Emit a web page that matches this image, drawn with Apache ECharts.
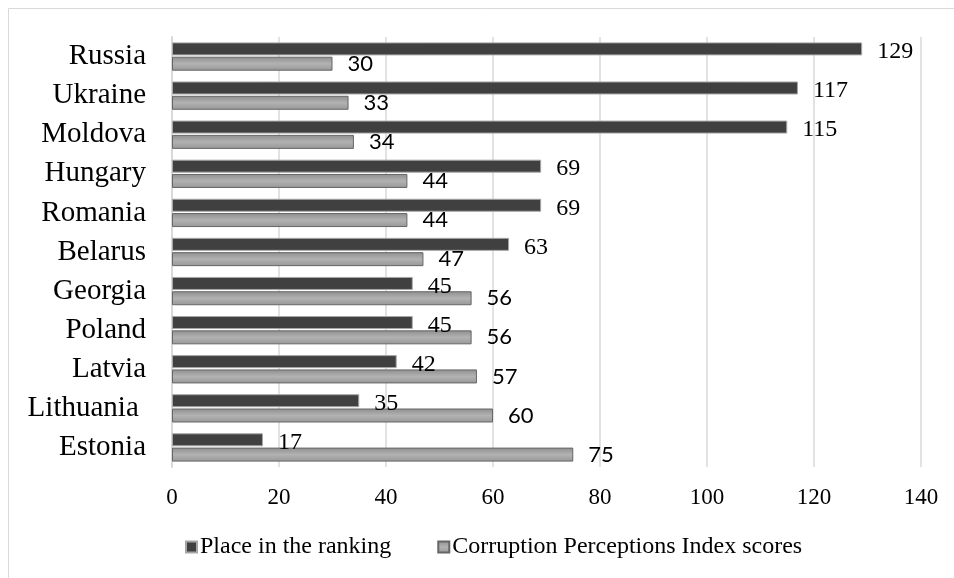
<!DOCTYPE html>
<html>
<head>
    <meta charset="utf-8">
    <title>Corruption ranking</title>
    <script src="https://cdn.jsdelivr.net/npm/echarts@6/dist/echarts.min.js"></script>
    <style>
        html, body { margin: 0; padding: 0; background: #fff; }
        #chart { width: 954px; height: 578px; }
    </style>
</head>
<body>
<div id="chart"></div>
<script>
    // 'Lithuania ' keeps the trailing space the original label has
    var countries = ['Russia', 'Ukraine', 'Moldova', 'Hungary', 'Romania', 'Belarus',
        'Georgia', 'Poland', 'Latvia', 'Lithuania ', 'Estonia'];
    var placeInRanking = [129, 117, 115, 69, 69, 63, 45, 45, 42, 35, 17];
    var cpiScores = [30, 33, 34, 44, 44, 47, 56, 56, 57, 60, 75];
    var xTicks = [0, 140, 20]; // min, max, step

    var serif = '"Liberation Serif", "Times New Roman", serif';
    var sans = 'Lato, "Liberation Sans", sans-serif';

    var myChart = echarts.init(document.getElementById('chart'));
    myChart.setOption({
        animation: false,
        backgroundColor: '#fff',
        graphic: [{
            type: 'rect',
            shape: { x: 8.5, y: 8.5, width: 1200, height: 1200 },
            style: { fill: 'none', stroke: '#d9d9d9', lineWidth: 1 },
            silent: true
        }],
        grid: { left: 172, right: 33, top: 37, bottom: 111, containLabel: false },
        legend: {
            left: 180,
            bottom: 14,
            itemWidth: 11,
            itemHeight: 11,
            itemGap: 46,
            icon: 'rect',
            textStyle: { fontFamily: serif, fontSize: 24, color: '#000', padding: [0, 0, 0, -2] },
            data: ['Place in the ranking', 'Corruption Perceptions Index scores']
        },
        xAxis: {
            type: 'value',
            min: xTicks[0],
            max: xTicks[1],
            interval: xTicks[2],
            axisLine: { show: false },
            axisTick: { show: false },
            splitLine: { lineStyle: { color: '#d9d9d9', width: 1.5 } },
            axisLabel: { fontFamily: serif, fontSize: 23, color: '#000', margin: 19 }
        },
        yAxis: {
            type: 'category',
            inverse: true,
            data: countries,
            axisLine: { lineStyle: { color: '#d9d9d9', width: 2 } },
            axisTick: { show: false },
            axisLabel: { fontFamily: serif, fontSize: 29, color: '#000', margin: 26 }
        },
        series: [
            {
                name: 'Place in the ranking',
                type: 'bar',
                data: placeInRanking,
                barWidth: 13,
                barGap: '10%',
                itemStyle: { color: '#404040', borderColor: '#a6a6a6', borderWidth: 1 },
                label: {
                    show: true,
                    position: 'right',
                    distance: 15,
                    offset: [0, 3],
                    fontFamily: serif,
                    fontSize: 24,
                    color: '#000'
                }
            },
            {
                name: 'Corruption Perceptions Index scores',
                type: 'bar',
                data: cpiScores,
                barWidth: 14,
                itemStyle: {
                    color: new echarts.graphic.LinearGradient(0, 0, 0, 1, [
                        { offset: 0, color: '#8e8e8e' },
                        { offset: 0.5, color: '#b2b2b2' },
                        { offset: 1, color: '#979797' }
                    ]),
                    borderColor: '#666666',
                    borderWidth: 1
                },
                label: {
                    show: true,
                    position: 'right',
                    distance: 15,
                    fontFamily: sans,
                    fontSize: 22,
                    color: '#000'
                }
            }
        ]
    });
</script>
</body>
</html>
